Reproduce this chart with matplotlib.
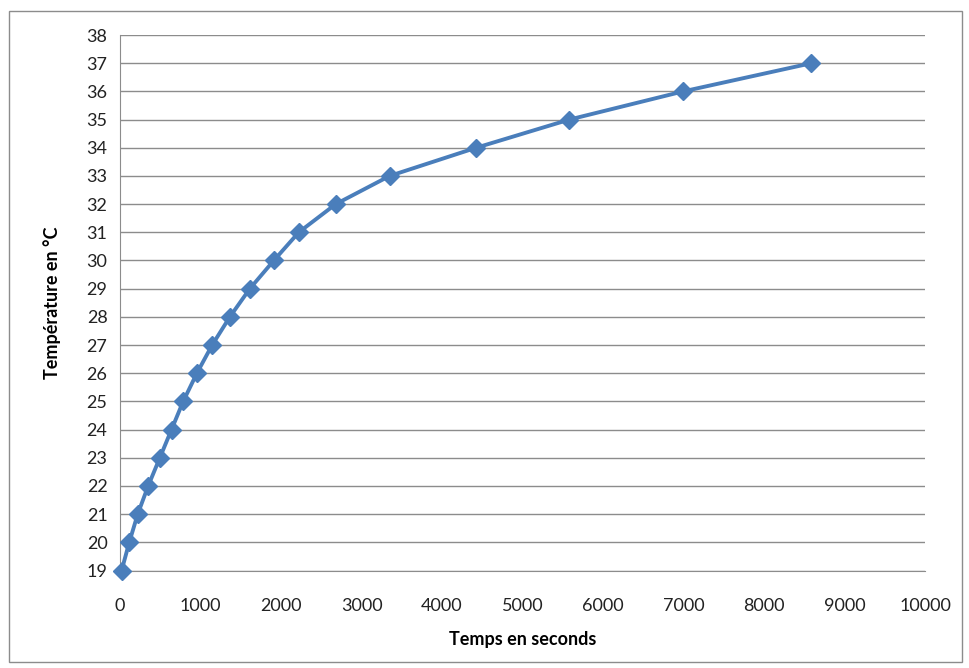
import matplotlib.pyplot as plt
from matplotlib.patches import Rectangle

# data
temps_s = [20, 115, 220, 350, 495, 640, 785, 955, 1145, 1365, 1613, 1911,
           2221, 2680, 3350, 4425, 5583, 6998, 8590]
temp_c = [19, 20, 21, 22, 23, 24, 25, 26, 27, 28, 29, 30, 31, 32, 33, 34,
          35, 36, 37]
x_ticks = list(range(0, 10001, 1000))
y_ticks = list(range(19, 39))

plt.rcParams['font.family'] = ['Lato', 'DejaVu Sans']

fig = plt.figure(figsize=(9.7, 6.68), dpi=100)
ax = fig.add_axes([120 / 970, 1 - 570.5 / 668, 805 / 970, 535.5 / 668])

# outer chart border
fig.patches.append(Rectangle((9 / 970, 1 - 662 / 668), 953 / 970, 651 / 668,
                             transform=fig.transFigure, fill=False,
                             edgecolor='#8c8c8c', linewidth=1))

ax.plot(temps_s, temp_c, color='#4a7ebb', linewidth=2.8, marker='D',
        markersize=9, markeredgecolor='#4a7ebb', markerfacecolor='#4a7ebb',
        zorder=3, clip_on=False)

ax.set_xlim(0, 10000)
ax.set_ylim(19, 38)
ax.set_xticks(x_ticks)
ax.set_yticks(y_ticks)
ax.tick_params(length=0, labelsize=13, colors='#222222', pad=9)
ax.tick_params(axis='x', pad=20)
ax.grid(axis='y', color='#8c8c8c', linewidth=1)
for side in ['top', 'right']:
    ax.spines[side].set_visible(False)
ax.spines['left'].set_color('#8c8c8c')
ax.spines['bottom'].set_color('#8c8c8c')

ax.set_xlabel('Temps en seconds', fontsize=13, fontweight='bold', labelpad=12)
ax.set_ylabel('Température en °C', fontsize=13, fontweight='bold', labelpad=18)

fig.savefig('out.png', dpi=100)
